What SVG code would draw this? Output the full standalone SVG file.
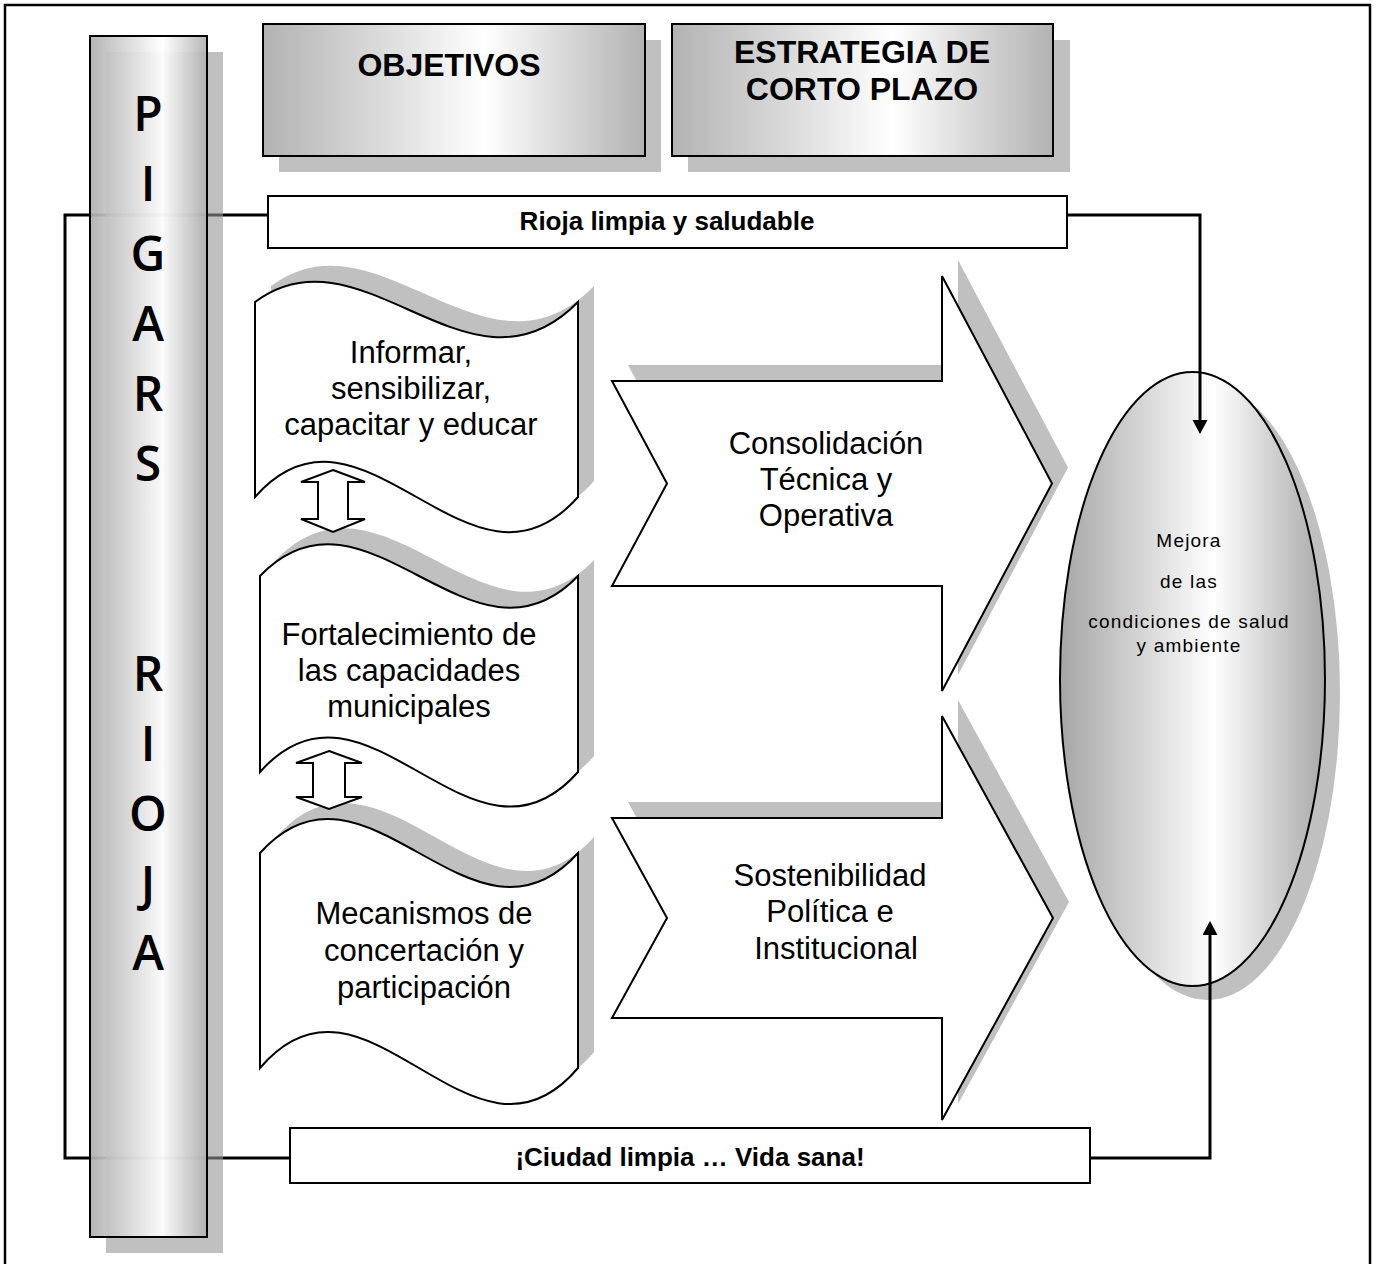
<svg xmlns="http://www.w3.org/2000/svg" width="1378" height="1264" viewBox="0 0 1378 1264">
<style>
.sh{fill:#c0c0c0}
.ol{fill:#fff;stroke:#000;stroke-width:2}
.body{font-family:"Liberation Sans",Arial,sans-serif;font-size:31px;text-anchor:middle;fill:#000}
.hd{font-family:"Liberation Sans",Arial,sans-serif;font-size:32px;font-weight:bold;text-anchor:middle;fill:#000}
.bx{font-family:"Liberation Sans",Arial,sans-serif;font-size:26px;font-weight:bold;text-anchor:middle;fill:#000}
.el{font-family:"Liberation Sans",Arial,sans-serif;font-size:19px;letter-spacing:1.2px;text-anchor:middle;fill:#000}
.pl{font-family:"Open Sans","DejaVu Sans",sans-serif;font-size:48px;font-weight:600;text-anchor:middle;fill:#000}
.conn{fill:none;stroke:#000;stroke-width:3}
</style>
<defs>
<linearGradient id="gBar" x1="0" y1="0" x2="1" y2="0">
<stop offset="0" stop-color="#b0b0b0"/><stop offset="0.62" stop-color="#ffffff"/><stop offset="1" stop-color="#b0b0b0"/>
</linearGradient>
<linearGradient id="gBox" x1="0" y1="0" x2="1" y2="0">
<stop offset="0" stop-color="#b2b2b2"/><stop offset="0.58" stop-color="#ffffff"/><stop offset="1" stop-color="#b2b2b2"/>
</linearGradient>
<linearGradient id="gEl" x1="0" y1="0" x2="1" y2="0">
<stop offset="0" stop-color="#a6a6a6"/><stop offset="0.58" stop-color="#ffffff"/><stop offset="1" stop-color="#a8a8a8"/>
</linearGradient>
<marker id="ah" markerUnits="userSpaceOnUse" markerWidth="16" markerHeight="16" refX="0" refY="7.5" orient="auto">
<path d="M0,0 L14,7.5 L0,15 Z" fill="#000"/>
</marker>
</defs>

<rect x="5" y="5" width="1365" height="1270" fill="none" stroke="#000" stroke-width="2.5"/>

<g id="ellipse-mejora">
<ellipse cx="1207.5" cy="693" rx="132.5" ry="307" class="sh"/>
<ellipse cx="1192.5" cy="679" rx="132.5" ry="307" fill="url(#gEl)" stroke="#000" stroke-width="2"/>
<text class="el" x="1189" y="547">Mejora</text>
<text class="el" x="1189" y="588">de las</text>
<text class="el" x="1189" y="628">condiciones de salud</text>
<text class="el" x="1189" y="652">y ambiente</text>
</g>

<g id="connectors">
<path class="conn" d="M268,215 H65 V1158 H290"/>
<path class="conn" d="M1067,215 H1200 V420" marker-end="url(#ah)"/>
<path class="conn" d="M1090,1158 H1210 V935" marker-end="url(#ah)"/>
</g>

<g id="pillar">
<rect x="106" y="52" width="117" height="1201" fill="#969696" fill-opacity="0.6"/>
<rect x="90" y="36" width="117" height="1201" fill="url(#gBar)" fill-opacity="0.93" stroke="#000" stroke-width="2"/>
<text class="pl" x="148" y="131">P</text>
<text class="pl" x="148" y="201">I</text>
<text class="pl" x="148" y="271">G</text>
<text class="pl" x="148" y="341">A</text>
<text class="pl" x="148" y="411">R</text>
<text class="pl" x="148" y="481">S</text>
<text class="pl" x="148" y="691">R</text>
<text class="pl" x="148" y="761">I</text>
<text class="pl" x="148" y="831">O</text>
<text class="pl" x="148" y="901">J</text>
<text class="pl" x="148" y="970">A</text>
</g>

<g id="header-objetivos">
<rect x="279" y="40" width="382" height="132" class="sh"/>
<rect x="263" y="24" width="382" height="132" fill="url(#gBox)" stroke="#000" stroke-width="2"/>
<text class="hd" x="449" y="76">OBJETIVOS</text>
</g>

<g id="header-estrategia">
<rect x="688" y="40" width="382" height="132" class="sh"/>
<rect x="672" y="24" width="381" height="132" fill="url(#gBox)" stroke="#000" stroke-width="2"/>
<text class="hd" x="862" y="63">ESTRATEGIA DE</text>
<text class="hd" x="862" y="100">CORTO PLAZO</text>
</g>

<g id="box-rioja">
<rect x="268" y="196" width="799" height="52" class="ol"/>
<text class="bx" x="667" y="230">Rioja limpia y saludable</text>
</g>

<g id="box-ciudad">
<rect x="290" y="1128" width="800" height="55" class="ol"/>
<text class="bx" x="690" y="1166">¡Ciudad limpia … Vida sana!</text>
</g>

<g id="obj-informar">
<path class="sh" transform="translate(16,-16)" d="M255,302 C362.7,222 470.3,412 578,302 L578,497 C470.3,619 362.7,375 255,497 Z"/>
<path class="ol" d="M255,302 C362.7,222 470.3,412 578,302 L578,497 C470.3,619 362.7,375 255,497 Z"/>
<text class="body" x="411" y="363">Informar,</text>
<text class="body" x="411" y="399">sensibilizar,</text>
<text class="body" x="411" y="435">capacitar y educar</text>
</g>

<g id="obj-fortalecimiento">
<path class="sh" transform="translate(16,-16)" d="M260,576 C366,466 472,686 578,576 L578,772 C472,892 366,652 260,772 Z"/>
<path class="ol" d="M260,576 C366,466 472,686 578,576 L578,772 C472,892 366,652 260,772 Z"/>
<text class="body" x="409" y="645">Fortalecimiento de</text>
<text class="body" x="409" y="681">las capacidades</text>
<text class="body" x="409" y="717">municipales</text>
</g>

<g id="obj-mecanismos">
<path class="sh" transform="translate(16,-16)" d="M260,853 C366,735 472,971 578,853 L578,1068 C472,1193 366,943 260,1068 Z"/>
<path class="ol" d="M260,853 C366,735 472,971 578,853 L578,1068 C472,1193 366,943 260,1068 Z"/>
<text class="body" x="424" y="924">Mecanismos de</text>
<text class="body" x="424" y="961">concertación y</text>
<text class="body" x="424" y="998">participación</text>
</g>

<g id="dbl-arrow-1">
<polygon class="ol" stroke-width="1.5" points="333,470 365,482 348,482 348,519 365,519 333,532 301,519 318,519 318,482 301,482"/>
</g>
<g id="dbl-arrow-2">
<polygon class="ol" stroke-width="1.5" points="329,751 362,763 345,763 345,797 362,797 329,809 296,797 313,797 313,763 296,763"/>
</g>

<g id="strat-consolidacion">
<polygon class="sh" transform="translate(16,-16)" points="612,381 942,381 942,276 1052,483.5 942,691 942,586 612,586 667,483.5"/>
<polygon class="ol" points="612,381 942,381 942,276 1052,483.5 942,691 942,586 612,586 667,483.5"/>
<text class="body" x="826" y="454">Consolidación</text>
<text class="body" x="826" y="490">Técnica y</text>
<text class="body" x="826" y="526">Operativa</text>
</g>

<g id="strat-sostenibilidad">
<polygon class="sh" transform="translate(16,-16)" points="612,818 942,818 942,716 1053,918 942,1120 942,1018 612,1018 667,918"/>
<polygon class="ol" points="612,818 942,818 942,716 1053,918 942,1120 942,1018 612,1018 667,918"/>
<text class="body" x="830" y="886">Sostenibilidad</text>
<text class="body" x="830" y="922">Política e</text>
<text class="body" x="836" y="959">Institucional</text>
</g>
</svg>
